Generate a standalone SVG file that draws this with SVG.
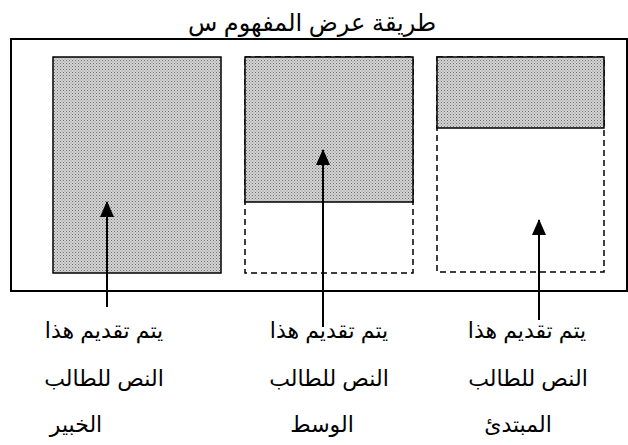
<svg xmlns="http://www.w3.org/2000/svg" width="628" height="445" viewBox="0 0 628 445">
<defs>
<pattern id="dots" width="3" height="3" patternUnits="userSpaceOnUse">
<rect width="3" height="3" fill="#d4d4d4"/>
<rect x="0" y="0" width="1" height="1" fill="#707070"/>
<rect x="1.5" y="1.5" width="1" height="1" fill="#8a8a8a"/>
</pattern>
<marker id="ah" viewBox="0 0 16 14" refX="15" refY="7" markerWidth="16" markerHeight="14" markerUnits="userSpaceOnUse" orient="auto">
<path d="M0,0 L16,7 L0,14 Z" fill="#000"/>
</marker>
</defs>
<style>
.t{font-family:"Liberation Sans","DejaVu Sans",sans-serif;font-size:22px;fill:#000;text-anchor:middle;direction:rtl}
.fill{fill:url(#dots);stroke:#000;stroke-width:1.5}
.dash{fill:none;stroke:#000;stroke-width:1.5;stroke-dasharray:6 4}
.frame{fill:none;stroke:#000;stroke-width:2}
.arr{stroke:#000;stroke-width:2;fill:none}
</style>
<rect width="628" height="445" fill="#fff"/>
<text class="t" x="312" y="31" style="font-size:24px">طريقة عرض المفهوم س</text>
<rect class="frame" x="11" y="39" width="616" height="252"/>
<g id="expert">
<rect class="fill" x="53" y="57" width="168" height="216"/>
<text class="t" x="104" y="338">يتم تقديم هذا</text>
<text class="t" x="104" y="386">النص للطالب</text>
<text class="t" x="76" y="432">الخبير</text>
</g>
<g id="middle">
<rect class="dash" x="245" y="57" width="168" height="216"/>
<rect class="fill" x="245" y="57" width="168" height="145"/>
<text class="t" x="329" y="338">يتم تقديم هذا</text>
<text class="t" x="329" y="386">النص للطالب</text>
<text class="t" x="322" y="432">الوسط</text>
</g>
<g id="beginner">
<rect class="dash" x="437" y="57" width="167" height="215"/>
<rect class="fill" x="437" y="57" width="167" height="71"/>
<text class="t" x="527" y="338">يتم تقديم هذا</text>
<text class="t" x="528" y="386">النص للطالب</text>
<text class="t" x="518" y="432">المبتدئ</text>
</g>
<g id="connectors">
<line class="arr" x1="107" y1="307" x2="107" y2="202" marker-end="url(#ah)"/>
<line class="arr" x1="323" y1="327" x2="323" y2="150" marker-end="url(#ah)"/>
<line class="arr" x1="539" y1="320" x2="539" y2="220" marker-end="url(#ah)"/>
</g>
</svg>
